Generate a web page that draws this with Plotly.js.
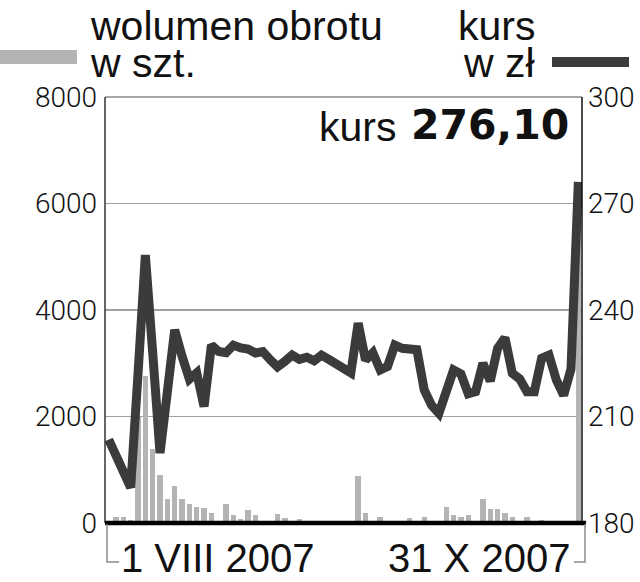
<!DOCTYPE html>
<html>
<head>
<meta charset="utf-8">
<script src="https://cdn.plot.ly/plotly-3.0.1.min.js"></script>
<style>
html,body{margin:0;padding:0;background:#fff;}
#chart{width:640px;height:582px;}
</style>
</head>
<body>
<div id="chart"></div>
<script>
// Trading sessions 1 VIII 2007 – 31 X 2007 (index along the x axis)
const sessions = Array.from({length: 65}, (_, i) => i);
// Volume (wolumen obrotu, w szt.)
const volume = [25,120,120,55,2000,2760,1390,900,450,700,450,360,306,280,190,40,360,150,70,245,
                150,25,0,160,90,0,78,0,12,12,12,38,0,0,880,182,12,107,0,0,
                0,88,0,107,38,38,306,150,107,150,30,445,263,263,194,113,0,113,0,56,
                20,15,0,44,6300];
// Price (kurs, w zł)
const price = [203.5,199,194.5,190,222,255.5,228,199.7,217,234.4,227,220.5,222.3,212.8,230.1,228.3,228,230.1,229.3,229,
               227.9,228.3,226,224,225.5,227.3,226.1,226.7,225.7,227.3,226.1,224.8,224.2,222.3,236.3,225.9,228,223.1,224.1,230.1,
               229.2,229,228.8,217.5,213.2,210.9,217,223.1,222,216.4,217,225,220,229.2,232.2,222.2,220.6,217,217,226.4,
               227.3,220.3,216,223.4,276.1];
const volTicks = [0,2000,4000,6000,8000];
const priceTicks = [180,210,240,270,300];
const dateLabels = ['1 VIII 2007','31 X 2007'];
const lastPrice = '276,10';

const tickFont = {family:'Roboto, Liberation Sans, sans-serif', size:28, weight:300, color:'#111'};
const txtFont = {family:'Liberation Sans, Arial, sans-serif', size:41, color:'#111'};
const dateFont = {family:'Liberation Sans, Arial, sans-serif', size:40, color:'#111'};

const traces = [
  {type:'bar', x:sessions, y:volume, marker:{color:'#b4b4b4', line:{width:0}}, width:0.74, yaxis:'y', hoverinfo:'skip'},
  {type:'scatter', mode:'lines', x:sessions, y:price, yaxis:'y2', line:{color:'#3b3b3b', width:9}, hoverinfo:'skip'}
];

const X0 = 105, X1 = 582, Y0 = 97, Y1 = 523, W = 640, H = 582;
const px = v => (v - X0) / (X1 - X0);
const py = v => (Y1 - v) / (Y1 - Y0);

const layout = {
  width: W, height: H,
  margin: {l: X0, r: W - X1, t: Y0, b: H - Y1, pad: 0},
  paper_bgcolor: '#fff', plot_bgcolor: '#fff',
  showlegend: false,
  bargap: 0,
  xaxis: {range: [-0.5, 64.5], showticklabels: false, ticks: '', showgrid: false, zeroline: false,
          showline: false, fixedrange: true},
  yaxis: {range: [0, 8000], tickvals: volTicks, ticktext: volTicks.map(String), tickfont: tickFont,
          showgrid: true, gridcolor: '#a0a0a0', gridwidth: 1.5, zeroline: false, showline: false,
          ticks: '', ticklabelstandoff: 7},
  yaxis2: {range: [180, 300], tickvals: priceTicks, ticktext: priceTicks.map(String), tickfont: tickFont,
           overlaying: 'y', side: 'right', showgrid: false, zeroline: false, showline: false,
           ticks: '', ticklabelstandoff: 5},
  shapes: [
    // frame
    {type:'line', xref:'paper', yref:'paper', x0:0, x1:1, y0:1, y1:1, line:{color:'#8a8a8a', width:1.5}},
    {type:'line', xref:'paper', yref:'paper', x0:0, x1:0, y0:0, y1:1, line:{color:'#333', width:1.5}},
    {type:'line', xref:'paper', yref:'paper', x0:1, x1:1, y0:0, y1:1, line:{color:'#111', width:1.5}},
    {type:'line', xref:'paper', yref:'paper', x0:0, x1:px(586), y0:0, y1:0, line:{color:'#000', width:4.5}},
    // date brackets
    {type:'path', xref:'paper', yref:'paper',
     path:`M ${px(107)} ${py(524)} L ${px(107)} ${py(562)} L ${px(119)} ${py(562)}`,
     line:{color:'#8a8a8a', width:1.5}},
    {type:'path', xref:'paper', yref:'paper',
     path:`M ${px(585)} ${py(524)} L ${px(585)} ${py(562)} L ${px(574)} ${py(562)}`,
     line:{color:'#8a8a8a', width:1.5}},
    // legend swatches
    {type:'rect', xref:'paper', yref:'paper', x0:px(0), x1:px(77), y0:py(64), y1:py(50),
     fillcolor:'#b4b4b4', line:{width:0}},
    {type:'line', xref:'paper', yref:'paper', x0:px(552), x1:px(629), y0:py(62), y1:py(62),
     line:{color:'#3b3b3b', width:10}}
  ],
  annotations: [
    {xref:'paper', yref:'paper', x:px(88), y:py(51), xanchor:'left', yanchor:'bottom', showarrow:false,
     text:'wolumen obrotu', font:txtFont},
    {xref:'paper', yref:'paper', x:px(88), y:py(88), xanchor:'left', yanchor:'bottom', showarrow:false,
     text:'w szt.', font:txtFont},
    {xref:'paper', yref:'paper', x:px(537), y:py(51), xanchor:'right', yanchor:'bottom', showarrow:false,
     text:'kurs', font:txtFont},
    {xref:'paper', yref:'paper', x:px(537), y:py(88), xanchor:'right', yanchor:'bottom', showarrow:false,
     text:'w zł', font:txtFont},
    {xref:'paper', yref:'paper', x:px(398), y:py(152), xanchor:'right', yanchor:'bottom', showarrow:false,
     text:'kurs', font:txtFont},
    {xref:'paper', yref:'paper', x:px(571), y:py(151), xanchor:'right', yanchor:'bottom', showarrow:false,
     text:'<b>' + lastPrice + '</b>', font:{family:'DejaVu Sans, sans-serif', size:41, color:'#111'}},
    {xref:'paper', yref:'paper', x:px(119), y:py(582), xanchor:'left', yanchor:'bottom', showarrow:false,
     text:dateLabels[0], font:dateFont},
    {xref:'paper', yref:'paper', x:px(572), y:py(582), xanchor:'right', yanchor:'bottom', showarrow:false,
     text:dateLabels[1], font:dateFont}
  ]
};

Plotly.newPlot('chart', traces, layout, {staticPlot: true, displayModeBar: false});
</script>
</body>
</html>
